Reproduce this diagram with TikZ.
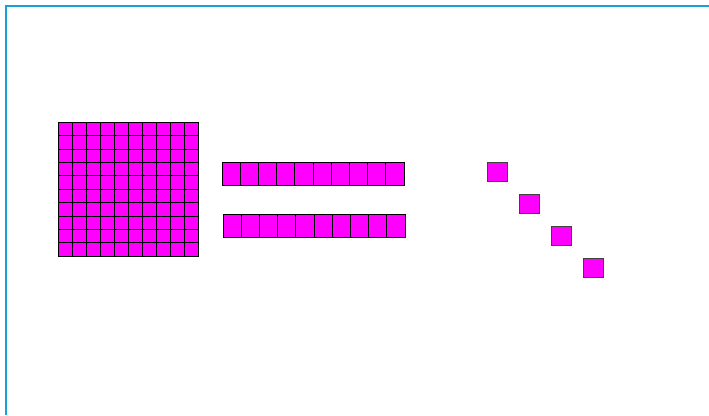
\documentclass[tikz,border=0pt]{standalone}
\definecolor{mag}{RGB}{255,0,255}
\definecolor{frameblue}{RGB}{22,163,212}
\begin{document}
\begin{tikzpicture}[x=1pt,y=-1pt,
  gridcell/.style={fill=mag,draw=black,line width=0.6pt},
  rodcell/.style={fill=mag,draw=black,line width=0.9pt},
  unitcell/.style={fill=mag,draw=black!75,line width=1pt}]
\useasboundingbox (0,0) rectangle (709,415);
\draw[frameblue,line width=2.2pt] (6,415) -- (6,6) -- (709,6);
% hundred flat
\foreach \i in {0,...,9}
  \foreach \j in {0,...,9}
    \draw[gridcell] ({58+14*\i},{122+13.4*\j}) rectangle ++(14,13.4);
% tens rods
\foreach \i in {0,...,9}
  \draw[rodcell] ({222+18.2*\i},162.5) rectangle ++(18.2,23.3);
\foreach \i in {0,...,9}
  \draw[rodcell] ({223+18.2*\i},214.5) rectangle ++(18.2,23);
% units
\foreach \k in {0,...,3}
  \draw[unitcell] ({487+32.1*\k},{162+32*\k}) rectangle ++(20,19.3);
\end{tikzpicture}
\end{document}
